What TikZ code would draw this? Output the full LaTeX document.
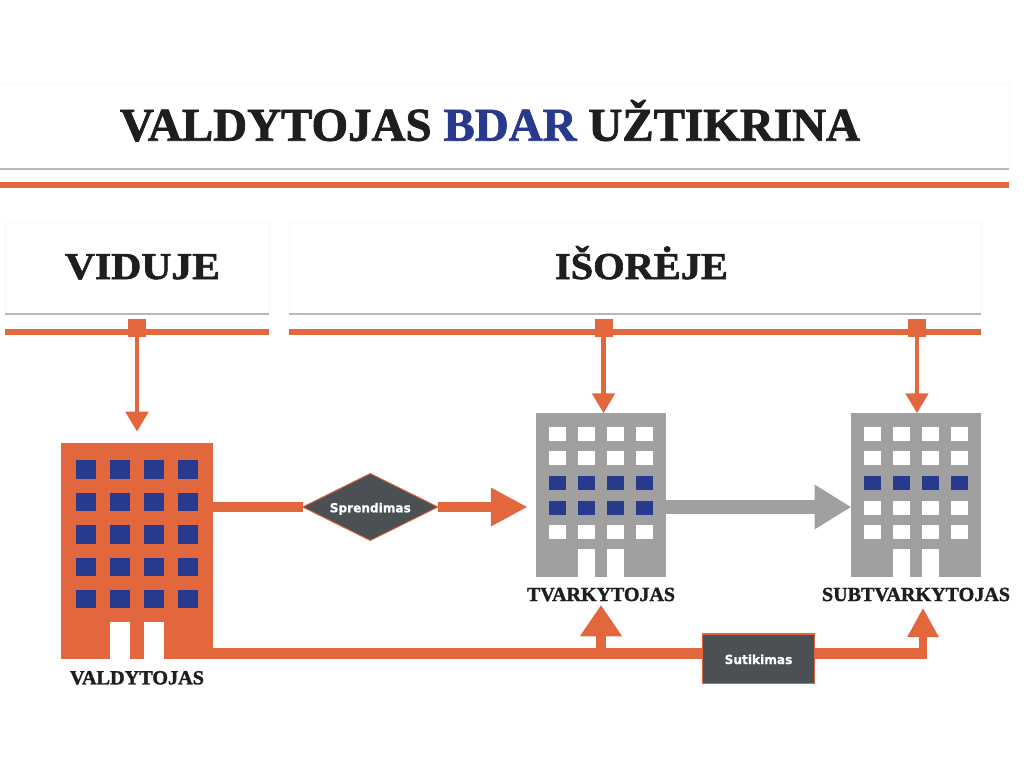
\documentclass[tikz,border=0pt]{standalone}
\usepackage{fontspec}
\usepackage{graphicx}
\usetikzlibrary{arrows.meta,shapes.geometric,calc}
\setmainfont{Liberation Serif}[BoldFeatures={FakeBold=1.6}]
\newfontfamily\lblfont{DejaVu Sans}[BoldFeatures={FakeBold=1}]
\definecolor{org}{RGB}{226,103,60}
\definecolor{navy}{RGB}{39,58,142}
\definecolor{gry}{RGB}{160,160,160}
\definecolor{slate}{RGB}{74,80,84}
\definecolor{ink}{RGB}{30,30,30}
\newlength\pxu \setlength\pxu{0.75pt}
\newcommand{\fit}[3]{\resizebox{#1\pxu}{\height}{\fontsize{#2\pxu}{#2\pxu}\selectfont\bfseries #3}}
\newcommand{\fitl}[3]{\resizebox{#1\pxu}{\height}{\fontsize{#2\pxu}{#2\pxu}\selectfont\lblfont\bfseries #3}}
\tikzset{
  x=0.75pt,y=-0.75pt,
  panel/.style={fill=white,draw=black!3,line width=0.5pt,inner sep=0pt,outer sep=0pt},
  panelrule/.style={draw=black!28,line width=1.1pt},
  txt/.style={anchor=base,inner sep=0pt,outer sep=0pt,text=ink},
  lbl/.style={anchor=base,inner sep=0pt,outer sep=0pt,text=white},
  bar/.style={draw=org,line width=4.5pt},
  sq/.style={fill=org,minimum size=13.5pt,inner sep=0pt,outer sep=0pt},
  tower/.style={inner sep=0pt,outer sep=0pt},
  drop/.style={draw=org,line width=3.6pt,-{Triangle[length=15pt,width=16.5pt]}},
  thick org/.style={draw=org,line width=8pt},
}
\newcommand{\winrow}[5]{% x-list, w, y, h, colour
  \foreach \wx in {#1} \fill[#5] (\wx,#3) rectangle (\wx+#2,#3+#4);}
\begin{document}
\begin{tikzpicture}
\useasboundingbox (0,0) rectangle (1024,768);
\fill[white] (0,0) rectangle (1024,768);
% panels
\node[panel,minimum width=1013*\pxu,minimum height=86*\pxu] (ptitle) at (502.5,126) {};
\node[panel,minimum width=264*\pxu,minimum height=92*\pxu] (pvid) at (137,268) {};
\node[panel,minimum width=692*\pxu,minimum height=92*\pxu] (pis) at (635,268) {};
\draw[panelrule] (0,169) -- (ptitle.south east);
\draw[panelrule] (pvid.south west) -- (pvid.south east);
\draw[panelrule] (pis.south west) -- (pis.south east);
% rules
\draw[bar] (0,184.7) -- (1009,184.7);
\draw[bar] (5,331.5) -- (269,331.5);
\draw[bar] (289,331.5) -- (981,331.5);
% title texts
\node[txt] (ttl) at (490,140.7) {\fit{740}{47}{VALDYTOJAS \textcolor{navy}{BDAR} UŽTIKRINA}};
\node[txt] (tvid) at (142.5,279) {\fit{155}{38}{VIDUJE}};
\node[txt] (tis) at (641.5,279) {\fit{173}{38}{IŠORĖJE}};
% buildings
\node[tower,fill=org,minimum width=152.6*\pxu,minimum height=216.3*\pxu] (bv) at (137,550.8) {};
\node[tower,fill=gry,minimum width=129.4*\pxu,minimum height=163.4*\pxu] (bt) at (601,495) {};
\node[tower,fill=gry,minimum width=129.4*\pxu,minimum height=163.4*\pxu] (bs) at (916,495) {};
% orange building windows
\foreach \ry in {460.3,492.7,525.3,557.7,590}
  \winrow{76.3,110.3,144,178}{19.8}{\ry}{18.4}{navy}
\fill[white] (110.3,621.7) rectangle (130,659);
\fill[white] (144,621.7) rectangle (164,659);
% grey building windows
\foreach \ox/\ca/\cb in {0/navy/navy,315/navy/white}{
  \begin{scope}[xshift=\ox*0.75pt]
  \winrow{549.3,578.3,607,636}{16.8}{427}{13.8}{white}
  \winrow{549.3,578.3,607,636}{16.8}{451.3}{13.8}{white}
  \winrow{549.3,578.3,607,636}{16.8}{476}{13.8}{\ca}
  \winrow{549.3,578.3,607,636}{16.8}{500.7}{13.8}{\cb}
  \winrow{549.3,578.3,607,636}{16.8}{525.3}{13.8}{white}
  \fill[white] (578.3,549) rectangle (595.1,576.7);
  \fill[white] (607,549) rectangle (623.8,576.7);
  \end{scope}
}
% building names
\node[txt] (lv) at (137,684.3) {\fit{134}{20}{VALDYTOJAS}};
\node[txt] (lt) at (601,601) {\fit{148}{20}{TVARKYTOJAS}};
\node[txt] (ls) at (916,601) {\fit{188}{20}{SUBTVARKYTOJAS}};
% top squares and drops
\node[sq] (s1) at (137,328) {};
\node[sq] (s2) at (603.5,328) {};
\node[sq] (s3) at (917,328) {};
\draw[drop,shorten >=8.2pt] (s1.south) -- (s1.south |- bv.north);
\draw[drop] (s2.south) -- (s2.south |- bt.north);
\draw[drop] (s3.south) -- (s3.south |- bs.north);
% diamond and box
\node[diamond,aspect=2,fill=slate,draw=org,line width=0.7pt,inner sep=0pt,outer sep=0pt,minimum width=135.3*\pxu,minimum height=67*\pxu] (dec) at (370.3,507) {};
\node[lbl] (dect) at (370.3,512.3) {\fitl{81}{12.5}{Sprendimas}};
\node[tower,fill=slate,draw=org,line width=0.9pt,minimum width=112*\pxu,minimum height=49.3*\pxu] (con) at (758.7,658.7) {};
\node[lbl] (cont) at (758.5,664) {\fitl{67.7}{12.5}{Sutikimas}};
% horizontal flows
\draw[thick org] (bv.east |- dec.west) -- (dec.west);
\draw[thick org,-{Triangle[length=27.5pt,width=27pt]},shorten >=6.5pt] (dec.east) -- (bt.west |- dec.east);
\draw[draw=gry,line width=10.5pt,-{Triangle[length=27.5pt,width=31.5pt]}] (bt.east |- dec.east) -- (bs.west |- dec.east);
% bottom flows
\coordinate (jt) at (601,653.5);
\coordinate (js) at (926.7,653.5);
\coordinate (jv) at (923,658.7);
\coordinate (tipt) at (601,605);
\coordinate (tips) at (923,607.7);
\draw[thick org] (bv.east |- jt) -- (con.west |- jt);
\draw[draw=org,line width=7.8pt,-{Triangle[length=23.5pt,width=30pt]}] (jt) -- (tipt);
\draw[thick org] (con.east |- js) -- (js);
\draw[draw=org,line width=5.7pt,-{Triangle[length=22pt,width=22pt]}] (jv) -- (tips);
\end{tikzpicture}
\end{document}
